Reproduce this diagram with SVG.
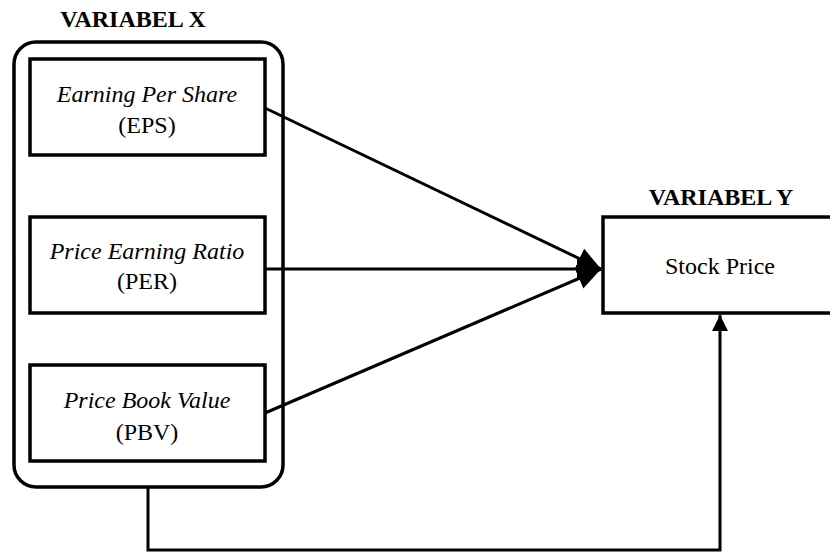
<svg xmlns="http://www.w3.org/2000/svg" width="830" height="553" viewBox="0 0 830 553">
<style>
.box{fill:#fff;stroke:#000;stroke-width:3.5}
.t{font-family:'Liberation Serif','Times New Roman',serif;font-size:24px;fill:#000;text-anchor:middle}
.i{font-style:italic}
.h{font-weight:bold;font-size:24px}
.c{stroke:#000;stroke-width:3;fill:none}
</style>
<defs>
<marker id="ah" markerUnits="userSpaceOnUse" markerWidth="26" markerHeight="24" refX="24" refY="11" orient="auto">
<path d="M0,0 L24,11 L0,22 Z" fill="#000"/>
</marker>
<marker id="ahs" markerUnits="userSpaceOnUse" markerWidth="18" markerHeight="18" refX="16" refY="8" orient="auto">
<path d="M0,0 L16,8 L0,16 Z" fill="#000"/>
</marker>
</defs>
<g id="variabel-x">
<text class="t h" x="133" y="27">VARIABEL X</text>
<rect class="box" x="14" y="42" width="269" height="445" rx="22"/>
</g>
<g id="eps">
<rect class="box" x="30" y="59" width="235" height="96"/>
<text class="t i" x="147" y="102">Earning Per Share</text>
<text class="t" x="147" y="133">(EPS)</text>
</g>
<g id="per">
<rect class="box" x="30" y="217" width="235" height="96"/>
<text class="t i" x="147" y="259">Price Earning Ratio</text>
<text class="t" x="147" y="289">(PER)</text>
</g>
<g id="pbv">
<rect class="box" x="30" y="365" width="235" height="96"/>
<text class="t i" x="147" y="408">Price Book Value</text>
<text class="t" x="147" y="440">(PBV)</text>
</g>
<g id="variabel-y">
<text class="t h" x="721" y="205">VARIABEL Y</text>
<rect class="box" x="603" y="217" width="240" height="96"/>
<text class="t" x="720" y="274">Stock Price</text>
</g>
<g id="connectors">
<line class="c" x1="265" y1="108" x2="601" y2="269" marker-end="url(#ah)"/>
<line class="c" x1="265" y1="269" x2="601" y2="269" marker-end="url(#ah)"/>
<line class="c" x1="265" y1="413" x2="601" y2="269" marker-end="url(#ah)"/>
<polyline class="c" points="148,487 148,550 720,550 720,315" marker-end="url(#ahs)"/>
</g>
</svg>
